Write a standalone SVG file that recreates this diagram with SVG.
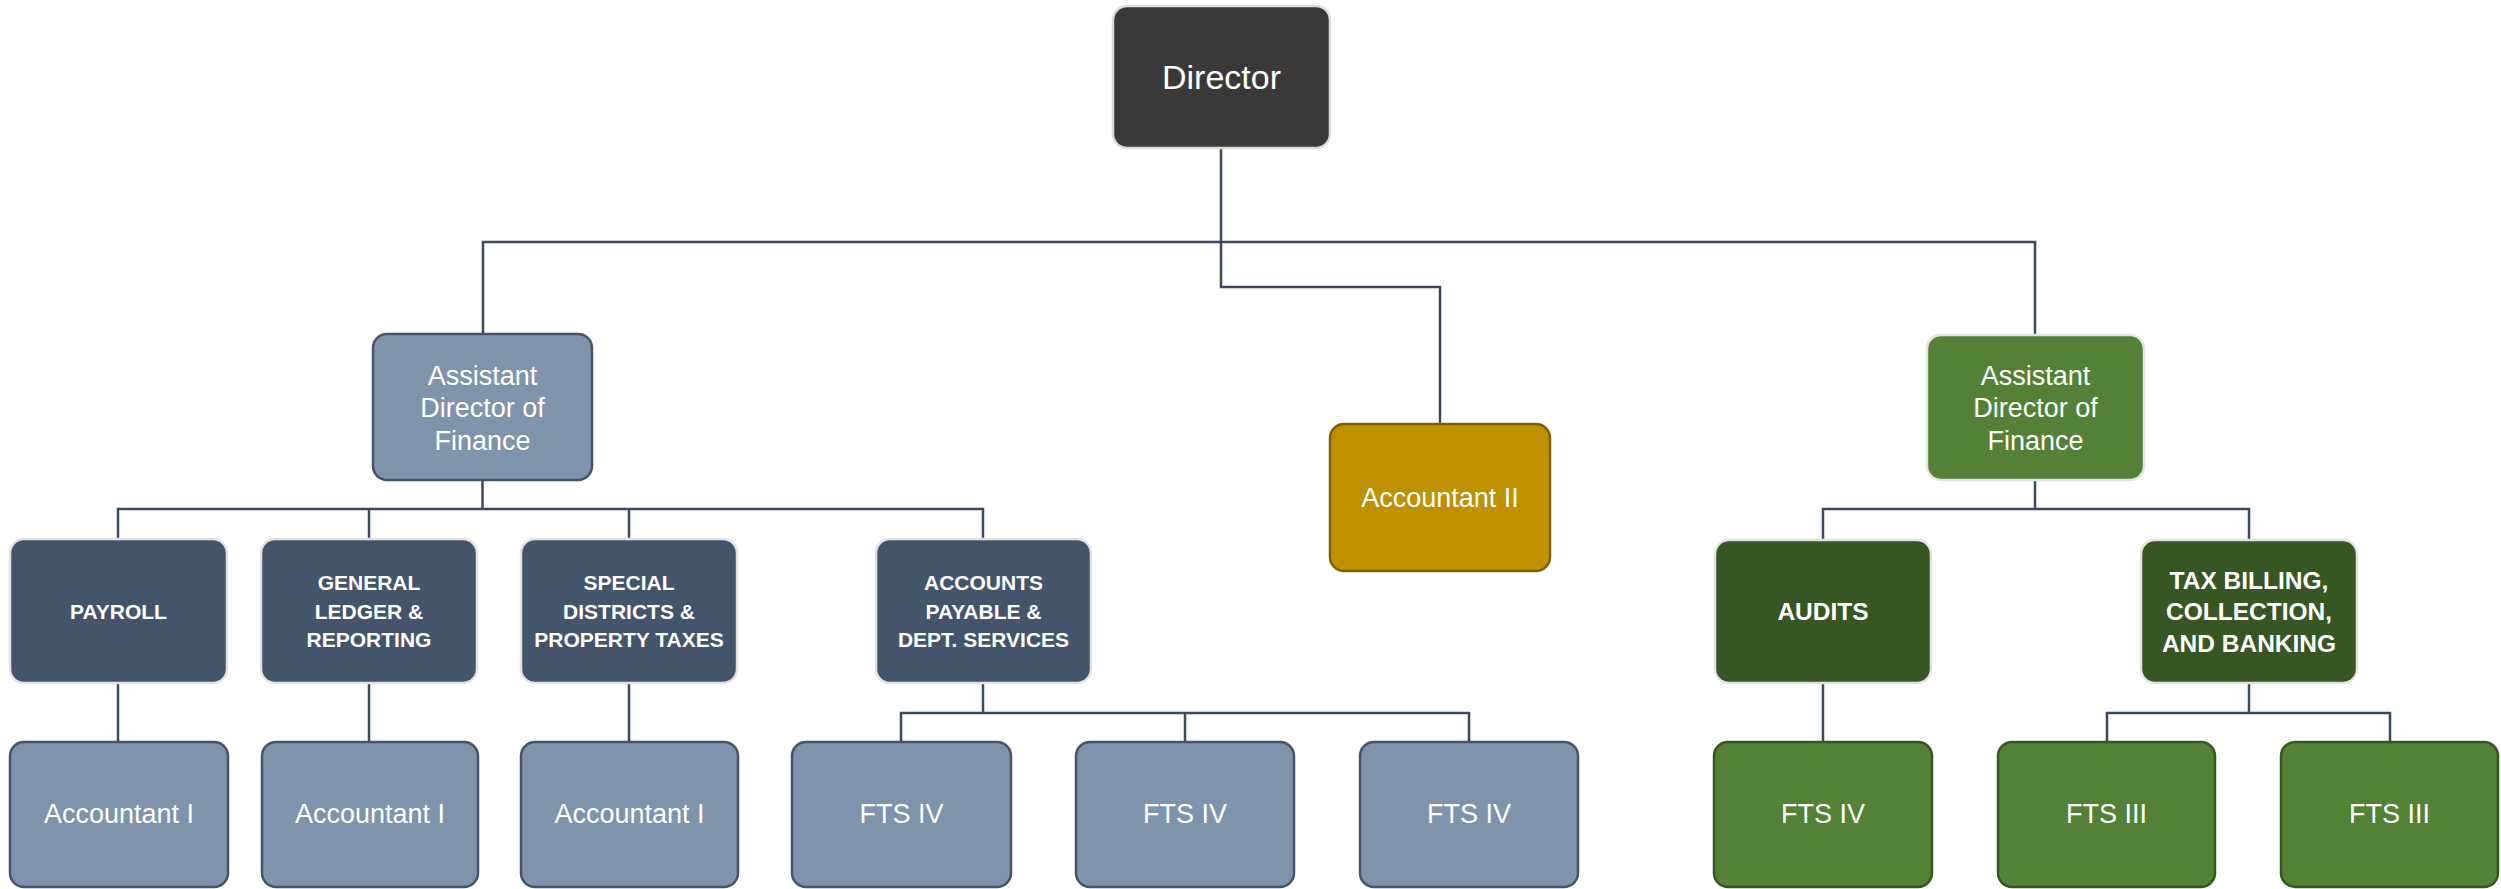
<svg xmlns="http://www.w3.org/2000/svg" width="2501" height="889" viewBox="0 0 2501 889">
<style>
.bg{fill:#ffffff}
.conn{fill:none;stroke:#3b4a60;stroke-width:2.5;stroke-linejoin:miter}
rect{stroke-width:2.5}
.dir{fill:#3a3937;stroke:#dcdcdc}
.asstB{fill:#7f93ad;stroke:#44546a}
.headB{fill:#44546a;stroke:#e3e3e3}
.leafB{fill:#7f93ad;stroke:#44546a}
.acc2{fill:#bf9000;stroke:#7f6000}
.asstG{fill:#538135;stroke:#e3e3e3}
.headG{fill:#375623;stroke:#e3e3e3}
.leafG{fill:#538135;stroke:#375623}
text{fill:#ffffff;font-family:"Liberation Sans",Arial,sans-serif;text-anchor:middle}
.t34{font-size:34px}
.t27{font-size:27px}
.hb{font-size:21px;font-weight:bold}
.hg{font-size:24.5px;font-weight:bold}
</style>
<rect class="bg" x="0" y="0" width="2501" height="889" style="stroke:none"/>
<g id="connectors">
<path class="conn" d="M1221 148 V287 H1440 V424"/>
<path class="conn" d="M483 334 V242 H2035 V335"/>
<path class="conn" d="M482.5 480 V509"/>
<path class="conn" d="M118 539 V509 H983 V539 M369 509 V539 M629 509 V539"/>
<path class="conn" d="M2035 480 V509"/>
<path class="conn" d="M1823 540 V509 H2249 V540"/>
<path class="conn" d="M118 683 V742 M369 683 V742 M629 683 V742"/>
<path class="conn" d="M983 683 V713"/>
<path class="conn" d="M901 742 V713 H1469 V742 M1185 713 V742"/>
<path class="conn" d="M1823 683 V742"/>
<path class="conn" d="M2249 683 V713"/>
<path class="conn" d="M2107 742 V713 H2390 V742"/>
</g>
<g id="director"><rect class="dir" x="1113" y="6" width="217" height="142" rx="14"/><text class="t34" x="1221.5" y="89">Director</text></g>
<g id="asst-left"><rect class="asstB" x="373" y="334" width="219" height="146" rx="14"/>
<text class="t27" x="482.5" y="385">Assistant</text><text class="t27" x="482.5" y="417">Director of</text><text class="t27" x="482.5" y="450">Finance</text></g>
<g id="accountant-ii"><rect class="acc2" x="1330" y="424" width="220" height="147" rx="14"/><text class="t27" x="1440" y="507">Accountant II</text></g>
<g id="asst-right"><rect class="asstG" x="1927" y="335" width="217" height="145" rx="14"/>
<text class="t27" x="2035.5" y="385">Assistant</text><text class="t27" x="2035.5" y="417">Director of</text><text class="t27" x="2035.5" y="450">Finance</text></g>
<g id="payroll"><rect class="headB" x="10" y="539" width="217" height="144" rx="14"/><text class="hb" x="118.5" y="619">PAYROLL</text></g>
<g id="general-ledger"><rect class="headB" x="261" y="539" width="216" height="144" rx="14"/>
<text class="hb" x="369" y="590">GENERAL</text><text class="hb" x="369" y="619">LEDGER &amp;</text><text class="hb" x="369" y="647">REPORTING</text></g>
<g id="special-districts"><rect class="headB" x="521" y="539" width="216" height="144" rx="14"/>
<text class="hb" x="629" y="590">SPECIAL</text><text class="hb" x="629" y="619">DISTRICTS &amp;</text><text class="hb" x="629" y="647">PROPERTY TAXES</text></g>
<g id="accounts-payable"><rect class="headB" x="876" y="539" width="215" height="144" rx="14"/>
<text class="hb" x="983.5" y="590">ACCOUNTS</text><text class="hb" x="983.5" y="619">PAYABLE &amp;</text><text class="hb" x="983.5" y="647">DEPT. SERVICES</text></g>
<g id="audits"><rect class="headG" x="1715" y="540" width="216" height="143" rx="14"/><text class="hg" x="1823" y="620">AUDITS</text></g>
<g id="tax-billing"><rect class="headG" x="2141" y="540" width="216" height="143" rx="14"/>
<text class="hg" x="2249" y="589">TAX BILLING,</text><text class="hg" x="2249" y="620">COLLECTION,</text><text class="hg" x="2249" y="652">AND BANKING</text></g>
<g id="acc-i-1"><rect class="leafB" x="10" y="742" width="218" height="145" rx="14"/><text class="t27" x="119" y="823">Accountant I</text></g>
<g id="acc-i-2"><rect class="leafB" x="262" y="742" width="216" height="145" rx="14"/><text class="t27" x="370" y="823">Accountant I</text></g>
<g id="acc-i-3"><rect class="leafB" x="521" y="742" width="217" height="145" rx="14"/><text class="t27" x="629.5" y="823">Accountant I</text></g>
<g id="fts-iv-1"><rect class="leafB" x="792" y="742" width="219" height="145" rx="14"/><text class="t27" x="901.5" y="823">FTS IV</text></g>
<g id="fts-iv-2"><rect class="leafB" x="1076" y="742" width="218" height="145" rx="14"/><text class="t27" x="1185" y="823">FTS IV</text></g>
<g id="fts-iv-3"><rect class="leafB" x="1360" y="742" width="218" height="145" rx="14"/><text class="t27" x="1469" y="823">FTS IV</text></g>
<g id="fts-iv-4"><rect class="leafG" x="1714" y="742" width="218" height="145" rx="14"/><text class="t27" x="1823" y="823">FTS IV</text></g>
<g id="fts-iii-1"><rect class="leafG" x="1998" y="742" width="217" height="145" rx="14"/><text class="t27" x="2106.5" y="823">FTS III</text></g>
<g id="fts-iii-2"><rect class="leafG" x="2281" y="742" width="217" height="145" rx="14"/><text class="t27" x="2389.5" y="823">FTS III</text></g>
</svg>
